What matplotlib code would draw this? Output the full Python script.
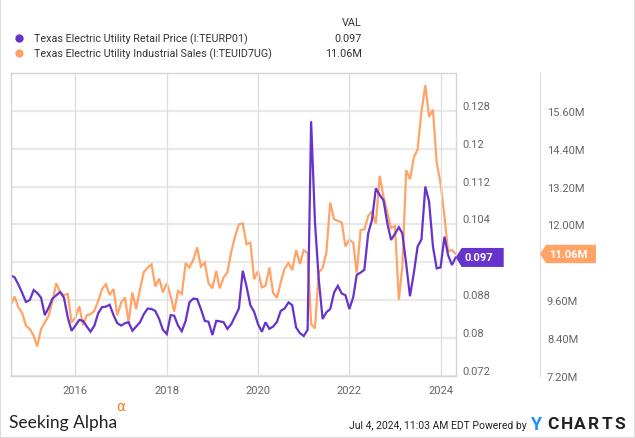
"""Texas electric utility retail price vs industrial sales, YCharts style."""

import matplotlib
matplotlib.use("Agg")
import matplotlib.pyplot as plt
import matplotlib.dates as mdates
import matplotlib.ticker as mticker
from matplotlib.patches import Polygon, Rectangle
from matplotlib.lines import Line2D
from matplotlib.transforms import blended_transform_factory, ScaledTranslation
import pandas as pd

# Monthly values, Aug 2014 .. May 2024
retail_price = [
    0.0932, 0.0928, 0.0913, 0.0895, 0.0876, 0.0880, 0.0901, 0.0895, 0.0885, 0.0848,
    0.0864, 0.0883, 0.0890, 0.0897, 0.0885, 0.0843, 0.0815, 0.0826, 0.0838, 0.0836,
    0.0824, 0.0813, 0.0826, 0.0852, 0.0865, 0.0866, 0.0870, 0.0848, 0.0831, 0.0826,
    0.0831, 0.0833, 0.0815, 0.0824, 0.0833, 0.0850, 0.0862, 0.0861, 0.0857, 0.0840,
    0.0817, 0.0808, 0.0848, 0.0847, 0.0826, 0.0814, 0.0836, 0.0875, 0.0883, 0.0882,
    0.0861, 0.0836, 0.0834, 0.0806, 0.0836, 0.0835, 0.0833, 0.0819, 0.0829, 0.0845,
    0.0862, 0.0942, 0.0909, 0.0869, 0.0855, 0.0829, 0.0813, 0.0833, 0.0819, 0.0824,
    0.0834, 0.0857, 0.0862, 0.0875, 0.0869, 0.0822, 0.0810, 0.0804, 0.0817, 0.1258,
    0.1044, 0.0924, 0.0840, 0.0854, 0.0861, 0.0896, 0.0910, 0.0894, 0.0890, 0.0861,
    0.0886, 0.0933, 0.0938, 0.0944, 0.1021, 0.1049, 0.1116, 0.1102, 0.1091, 0.1042,
    0.1007, 0.1020, 0.1034, 0.1021, 0.0956, 0.0888, 0.0937, 0.0993, 0.1008, 0.1120,
    0.1088, 0.0993, 0.0947, 0.0949, 0.1014, 0.0975, 0.0954, 0.0970,
]
industrial_sales = [  # millions
    9.44, 9.71, 9.37, 9.19, 8.78, 8.68, 8.47, 8.13, 8.68, 8.89,
    9.10, 9.57, 10.13, 9.84, 9.76, 9.79, 8.89, 9.05, 9.40, 8.81,
    9.12, 9.15, 9.26, 9.57, 9.95, 10.10, 9.76, 9.95, 9.12, 9.52,
    9.68, 8.89, 9.84, 9.31, 9.95, 10.49, 10.63, 10.73, 10.03, 10.28,
    9.84, 10.13, 9.73, 9.23, 9.89, 9.79, 10.77, 10.63, 10.87, 11.27,
    10.66, 10.79, 10.13, 9.97, 10.52, 9.97, 10.32, 10.47, 11.13, 11.61,
    12.00, 12.03, 11.37, 11.42, 10.26, 10.52, 10.00, 10.05, 10.63, 9.82,
    9.67, 10.16, 10.60, 10.77, 10.55, 11.19, 10.74, 11.18, 11.09, 8.84,
    8.70, 10.47, 10.62, 11.11, 12.69, 12.16, 12.11, 12.06, 11.30, 11.51,
    11.42, 10.45, 11.82, 11.84, 12.27, 12.41, 12.03, 13.54, 12.88, 12.37,
    11.88, 11.95, 9.61, 10.66, 13.72, 13.43, 14.12, 14.38, 15.57, 16.42,
    15.41, 15.64, 13.95, 13.30, 12.25, 11.14, 11.19, 11.06,
]
dates = pd.date_range("2014-08-01", periods=len(retail_price), freq="MS")

price_ticks = [0.072, 0.08, 0.088, 0.096, 0.104, 0.112, 0.12, 0.128]
price_labels = ["0.072", "0.08", "0.088", "", "0.104", "0.112", "0.12", "0.128"]
sales_ticks = [7.2, 8.4, 9.6, 10.8, 12.0, 13.2, 14.4, 15.6]
sales_labels = ["7.20M", "8.40M", "9.60M", "", "12.00M", "13.20M", "14.40M", "15.60M"]

series_names = [
    "Texas Electric Utility Retail Price (I:TEURP01)",
    "Texas Electric Utility Industrial Sales (I:TEUID7UG)",
]
last_values = ["0.097", "11.06M"]

PURPLE = "#6633cc"
ORANGE = "#ffa366"
GRID = "#e9e9e9"
TICK_COLOR = "#666666"
TEXT_COLOR = "#333333"

plt.rcParams["font.family"] = ["Roboto", "DejaVu Sans"]

W, H = 635, 439
fig = plt.figure(figsize=(W / 100, H / 100), dpi=100)

left_px, right_px, top_px, bottom_px = 10.7, 455.7, 74, 376.7
ax = fig.add_axes([left_px / W, 1 - bottom_px / H,
                   (right_px - left_px) / W, (bottom_px - top_px) / H])
ax2 = ax.twinx()
ax.set_zorder(ax2.get_zorder() + 1)
ax.patch.set_visible(False)

ax2.plot(dates, industrial_sales, color=ORANGE, lw=1.6, solid_joinstyle="miter")
ax.plot(dates, retail_price, color=PURPLE, lw=1.6, solid_joinstyle="miter")

ax.set_xlim(dates[0], dates[-1])
ax.set_ylim(0.072, 0.136)
ax2.set_ylim(7.2, 16.8)

ax.xaxis.set_major_locator(mdates.YearLocator(2))
ax.xaxis.set_major_formatter(mdates.DateFormatter("%Y"))
ax.grid(axis="x", color="#dddddd", lw=0.9)

ax.yaxis.tick_right()
ax.set_yticks(price_ticks)
ax.yaxis.set_major_formatter(mticker.FixedFormatter(price_labels))
ax2.set_yticks(sales_ticks)
ax2.yaxis.set_major_formatter(mticker.FixedFormatter(sales_labels))
ax2.grid(axis="y", color=GRID, lw=1.6)

ax.tick_params(axis="x", length=0, pad=7, labelsize=8, labelcolor=TICK_COLOR)
ax.tick_params(axis="y", length=0, pad=4.5, labelsize=8, labelcolor=TICK_COLOR)
ax2.tick_params(axis="y", length=0, pad=5, labelsize=8, labelcolor=TICK_COLOR)
for lab in ax.get_yticklabels() + ax2.get_yticklabels():
    lab.set_va("bottom")

sales_axis_pos = (540 - left_px) / (right_px - left_px)
for name, sp in ax.spines.items():
    sp.set_color("#d4d4d4")
    sp.set_linewidth(1.0)
for name, sp in ax2.spines.items():
    sp.set_visible(name == "right")
ax2.spines["right"].set_position(("axes", sales_axis_pos))
ax2.spines["right"].set_color("#dddddd")


def add_tag(axis, xfrac, value, text, color, width_px, half_h):
    base = blended_transform_factory(axis.transAxes, axis.transData)
    tr = fig.dpi_scale_trans + ScaledTranslation(xfrac, value, base)
    tip = 6 / 100
    w, h = width_px / 100, half_h / 100
    fig.add_artist(Polygon([(0, 0), (tip, h), (w, h), (w, -h), (tip, -h)],
                           closed=True, transform=tr, facecolor=color,
                           edgecolor="none", zorder=10))
    fig.text(0.09, 0, text, transform=tr, color="white", fontsize=8,
             fontweight="bold", ha="left", va="center", zorder=11)


add_tag(ax, 1.0, retail_price[-1], last_values[0], PURPLE, 48, 9.5)
add_tag(ax2, sales_axis_pos, industrial_sales[-1], last_values[1], ORANGE, 56, 9.2)

# legend block
fig.text(361.7 / W, 1 - 23.5 / H, "VAL", ha="right", va="center",
         fontsize=7.8, color=TEXT_COLOR)
for i, (name, val, col) in enumerate(zip(series_names, last_values, [PURPLE, ORANGE])):
    y = 1 - (39.3 + 15 * i) / H
    fig.add_artist(Line2D([19 / W], [y], marker="o", ms=6, color=col,
                          markeredgewidth=0))
    fig.text(34 / W, y, name, ha="left", va="center", fontsize=7.75, color=TEXT_COLOR)
    fig.text(361.7 / W, y, val, ha="right", va="center", fontsize=7.8, color=TEXT_COLOR)

# footer
fig.text(9 / W, 1 - 428 / H, "Seeking Alpha", ha="left", va="baseline",
         fontsize=12.5, color="#222222", family=["Lato", "DejaVu Sans"])
fig.text(116 / W, 1 - 407 / H, "\u03b1", ha="left", va="center",
         fontsize=10, color="#ff7a1a", family=["DejaVu Sans"])
fig.text(527 / W, 1 - 426 / H, "Jul 4, 2024, 11:03 AM EDT Powered by",
         ha="right", va="center", fontsize=7.5, color="#222222")
fig.text(530.5 / W, 1 - 425 / H, "Y", ha="left", va="center", fontsize=13,
         fontweight="bold", color="#1e90ff")
for j, letter in enumerate("CHARTS"):
    fig.text((546.7 + 13.3 * (j + 0.5)) / W, 1 - 425 / H, letter, ha="center",
             va="center", fontsize=12.5, fontweight="bold", color="#222222")

fig.add_artist(Rectangle((0, 0), 1, 1, transform=fig.transFigure, fill=False,
                         edgecolor="#dddddd", lw=1.5))

fig.savefig("out.png", dpi=100, facecolor="white")
